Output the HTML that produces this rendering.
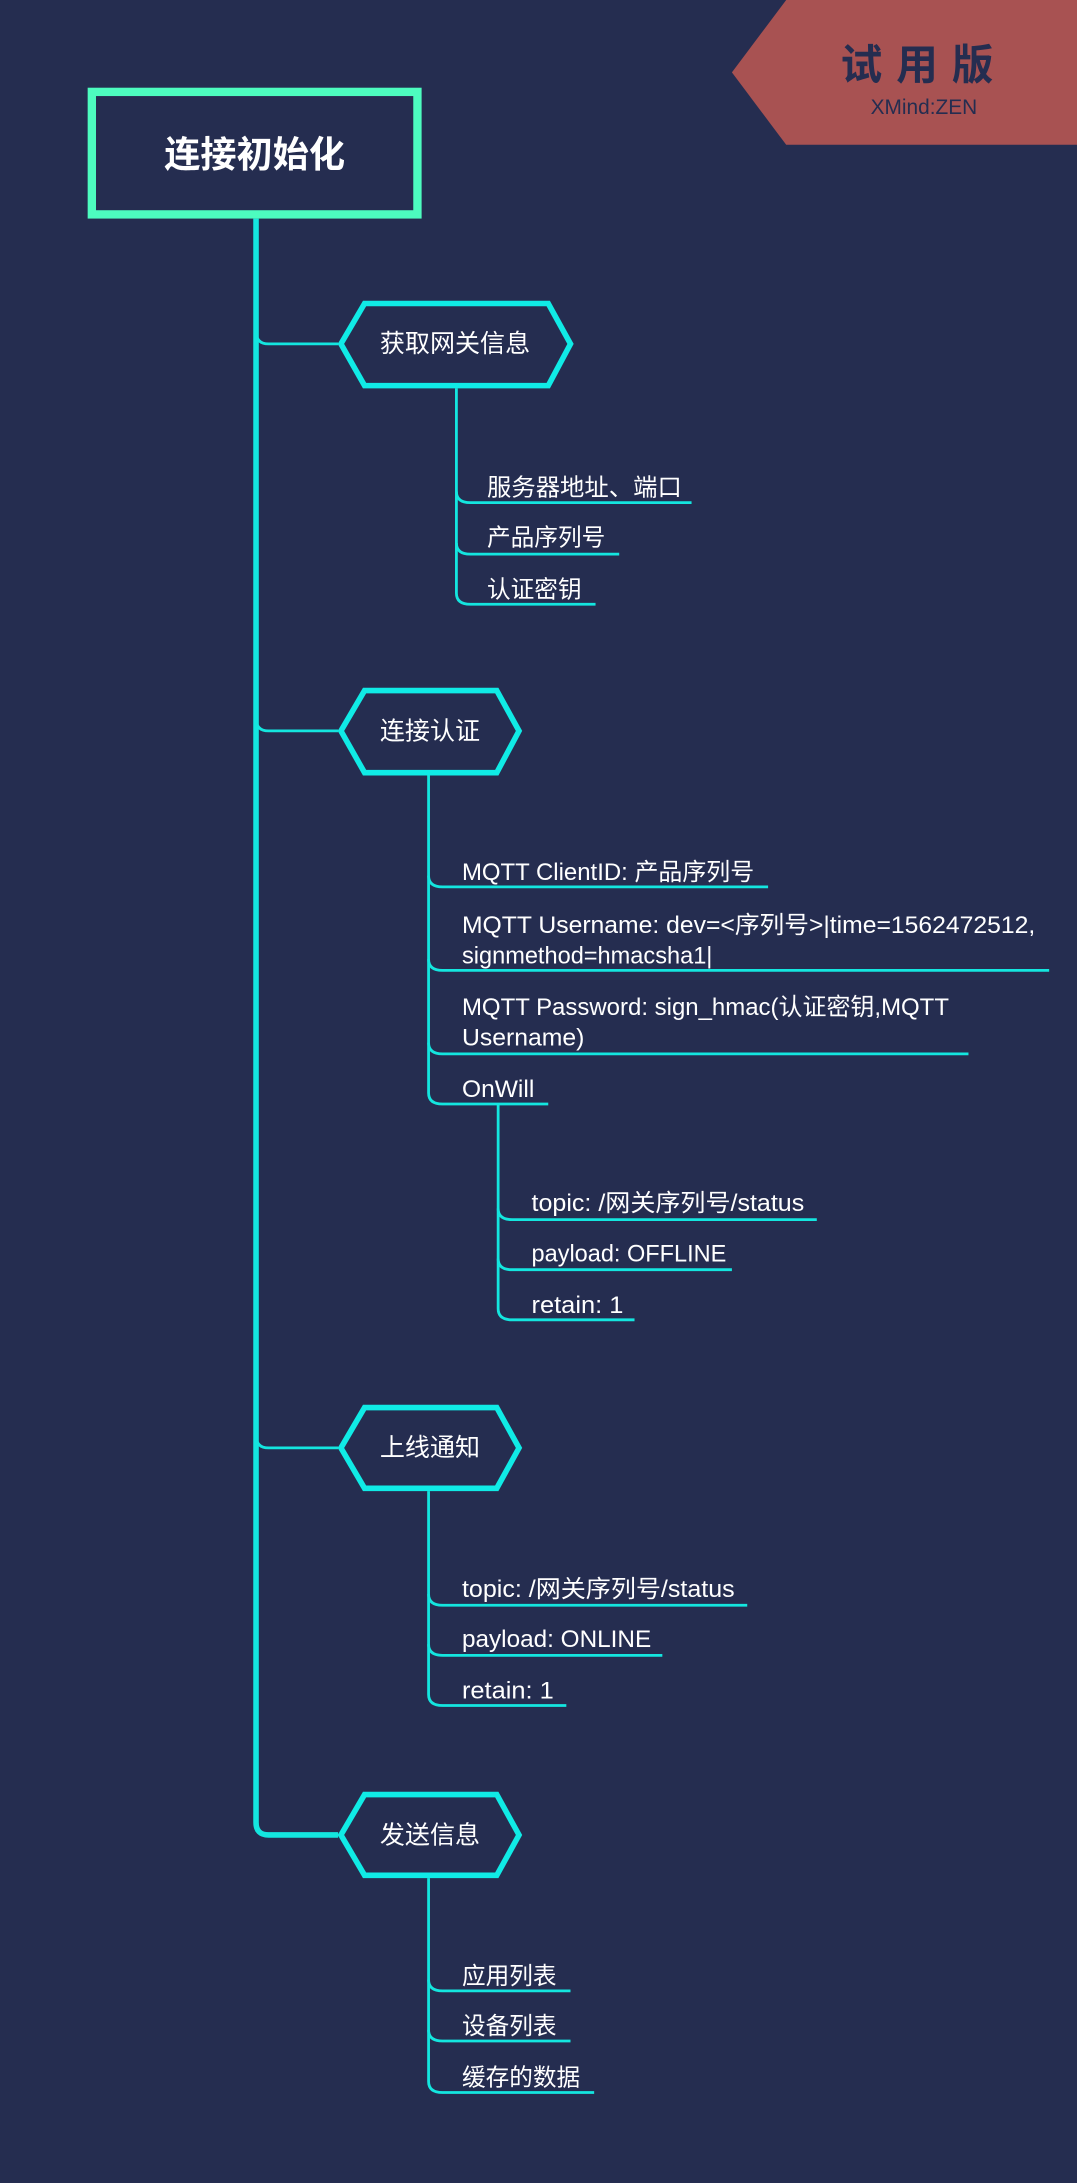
<!DOCTYPE html>
<html><head><meta charset="utf-8"><style>
html,body{margin:0;padding:0;background:#252d50;}
svg{display:block}
text{font-family:"Liberation Sans","Noto Sans CJK SC",sans-serif;fill:#fff}
</style></head><body>
<svg width="1077" height="2183" viewBox="0 0 774 1568" preserveAspectRatio="none" xmlns="http://www.w3.org/2000/svg">
<rect width="774" height="1568" fill="#252d50"/>
<!-- trial badge -->
<polygon points="565,0 774,0 774,104 565,104 526,52" fill="#a85252"/>
<text x="664" y="57" text-anchor="middle" font-size="30" font-weight="bold" style="fill:#252d50" letter-spacing="10">试用版</text>
<text x="664" y="82" text-anchor="middle" font-size="15" style="fill:#252d50">XMind:ZEN</text>

<g fill="none" stroke="#14e6df">
<!-- main trunk -->
<path d="M184,157 V1309 Q184,1318 193,1318 H243" stroke-width="4"/>
<path d="M184,238 Q184,247 193,247 H243" stroke-width="2"/>
<path d="M184,516 Q184,525 193,525 H243" stroke-width="2"/>
<path d="M184,1031 Q184,1040 193,1040 H243" stroke-width="2"/>
<path d="M184,1309 Q184,1318 193,1318 H243" stroke-width="2"/>
<!-- branch 1 -->
<g stroke-width="2">
<path d="M328,279 V426 Q328,434 338,434 H428"/>
<path d="M328,353 Q328,361 338,361 H497"/>
<path d="M328,390 Q328,398 338,398 H445"/>
<!-- branch 2 -->
<path d="M308,557 V785 Q308,793 318,793 H394"/>
<path d="M308,629 Q308,637 318,637 H552"/>
<path d="M308,689 Q308,697 318,697 H754"/>
<path d="M308,749 Q308,757 318,757 H696"/>
<path d="M358,793 V940 Q358,948 368,948 H456"/>
<path d="M358,868 Q358,876 368,876 H587"/>
<path d="M358,904 Q358,912 368,912 H526"/>
<!-- branch 3 -->
<path d="M308,1071 V1217 Q308,1225 318,1225 H407"/>
<path d="M308,1145 Q308,1153 318,1153 H537"/>
<path d="M308,1181 Q308,1189 318,1189 H476"/>
<!-- branch 4 -->
<path d="M308,1349 V1495 Q308,1503 318,1503 H427"/>
<path d="M308,1422 Q308,1430 318,1430 H410"/>
<path d="M308,1458 Q308,1466 318,1466 H410"/>
</g>
<!-- hexagons -->
<g stroke="#10ebe6" stroke-width="4" fill="#252d50">
<polygon points="262,218 394,218 410,247 394,277 262,277 245,247"/>
<polygon points="262,496 357,496 373,525 357,555 262,555 245,525"/>
<polygon points="262,1011 357,1011 373,1040 357,1069 262,1069 245,1040"/>
<polygon points="262,1289 357,1289 373,1318 357,1347 262,1347 245,1318"/>
</g>
</g>
<!-- root -->
<rect x="66" y="66" width="234" height="88" fill="#252d50" stroke="#4dfcbf" stroke-width="6"/>
<text x="183" y="120" text-anchor="middle" font-size="26" font-weight="bold">连接初始化</text>

<g font-size="18">
<text x="327" y="253" text-anchor="middle">获取网关信息</text>
<text x="309" y="531" text-anchor="middle">连接认证</text>
<text x="309" y="1046" text-anchor="middle">上线通知</text>
<text x="309" y="1324" text-anchor="middle">发送信息</text>
</g>
<g font-size="17">
<text x="350" y="356" textLength="140" lengthAdjust="spacingAndGlyphs">服务器地址、端口</text>
<text x="350" y="392">产品序列号</text>
<text x="350" y="429">认证密钥</text>
<text x="332" y="632" textLength="210" lengthAdjust="spacingAndGlyphs">MQTT ClientID: 产品序列号</text>
<text x="332" y="670" textLength="412" lengthAdjust="spacingAndGlyphs">MQTT Username: dev=&lt;序列号&gt;|time=1562472512,</text>
<text x="332" y="692" textLength="180" lengthAdjust="spacingAndGlyphs">signmethod=hmacsha1|</text>
<text x="332" y="729" textLength="350" lengthAdjust="spacingAndGlyphs">MQTT Password: sign_hmac(认证密钥,MQTT</text>
<text x="332" y="751" textLength="88" lengthAdjust="spacingAndGlyphs">Username)</text>
<text x="332" y="788" textLength="52" lengthAdjust="spacingAndGlyphs">OnWill</text>
<text x="382" y="870" textLength="196" lengthAdjust="spacingAndGlyphs">topic: /网关序列号/status</text>
<text x="382" y="906" textLength="140" lengthAdjust="spacingAndGlyphs">payload: OFFLINE</text>
<text x="382" y="943" textLength="66" lengthAdjust="spacingAndGlyphs">retain: 1</text>
<text x="332" y="1147" textLength="196" lengthAdjust="spacingAndGlyphs">topic: /网关序列号/status</text>
<text x="332" y="1183" textLength="136" lengthAdjust="spacingAndGlyphs">payload: ONLINE</text>
<text x="332" y="1220" textLength="66" lengthAdjust="spacingAndGlyphs">retain: 1</text>
<text x="332" y="1425">应用列表</text>
<text x="332" y="1461">设备列表</text>
<text x="332" y="1498">缓存的数据</text>
</g>
</svg>
</body></html>
